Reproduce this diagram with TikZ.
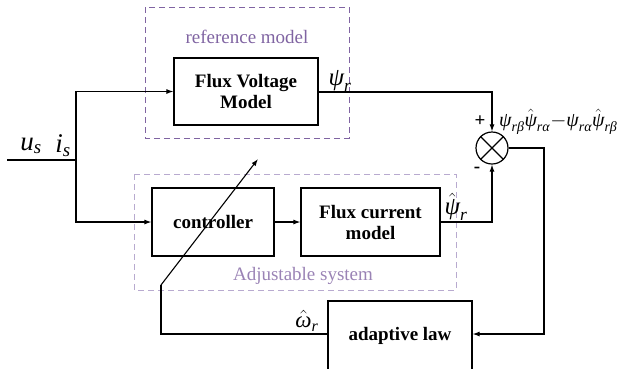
\documentclass[tikz,border=0pt]{standalone}
\usepackage{amsmath}
\usepackage{fontspec}
\setmainfont{Liberation Serif}
\usetikzlibrary{arrows.meta}
\definecolor{refpurple}{HTML}{8064A2}
\definecolor{adjpurple}{HTML}{B8AACF}
\newcommand{\ti}[1]{\text{\itshape #1}}
\begin{document}
\begin{tikzpicture}[x=1pt,y=-1pt,
  blk/.style={draw,line width=1.2pt,inner sep=0pt,font=\fontsize{19}{21}\selectfont\bfseries,align=center},
  conn/.style={line width=1.1pt},
  arr/.style={conn,-{Latex[length=7pt,width=5pt]}},
  lbl/.style={inner sep=0pt,font=\fontsize{19}{21}\selectfont},
  grp/.style={dashed,dash pattern=on 6pt off 4pt,line width=1pt}
]
\useasboundingbox (0,0) rectangle (622,368);
\clip (0,0) rectangle (622,368);
% groups
\draw[grp,refpurple] (145,7) rectangle (349,138);
\node[lbl,text=refpurple] (reflbl) at (247,37) {reference model};
\draw[grp,adjpurple] (134,174) rectangle (456,290);
\node[lbl,text=refpurple!80] (adjlbl) at (303,276) {Adjustable system};
% blocks
\node[blk,minimum width=144pt,minimum height=67pt] (fvm) at (246,91.5) {Flux Voltage\\Model};
\node[blk,minimum width=122pt,minimum height=68pt] (ctrl) at (213,222) {controller};
\node[blk,minimum width=139pt,minimum height=68pt] (fcm) at (370.5,222) {Flux current\\model};
\node[blk,minimum width=144pt,minimum height=70pt] (adp) at (400,336) {\raisebox{2pt}{adaptive law}};
\node[draw,circle,line width=1.2pt,minimum size=32pt,inner sep=0pt] (sum) at (492,148) {};
\draw[line width=1.1pt] (sum.north west) -- (sum.south east) (sum.north east) -- (sum.south west);
% coordinates
\coordinate (in) at (7,160);
\coordinate (j) at (76,160);
\coordinate (fb) at (161,285);
\coordinate (fbend) at (258,159);
% connectors
\draw[conn] (in) -- (j);
\draw[arr] (j) |- (fvm.west);
\draw[arr] (j) |- (ctrl.west);
\draw[arr] (ctrl) -- (fcm);
\draw[arr] (fvm.east |- 0,92) -| (sum.north);
\draw[arr] (fcm.east) -| (sum.south);
\draw[arr] (sum.east) -- (544,148) |- ([yshift=2pt]adp.east);
\draw[conn] ([yshift=2pt]adp.west) -| (fb);
\draw[arr] (fb) -- (fbend);
% labels
\node[lbl,font=\fontsize{27}{29}\selectfont] (us) at (31,146) {$\ti{u}_{\ti{s}}$};
\node[lbl,font=\fontsize{27}{29}\selectfont] (is) at (63,146) {$\ti{i}_{\ti{s}}$};
\node[lbl,font=\fontsize{25}{27}\selectfont] (psir) at (340,81) {$\ti{ψ}_{\ti{r}}$};
\node[lbl,font=\fontsize{25}{27}\selectfont] (psihat) at (456,207) {$\hat{\ti{ψ}}_{\ti{r}}$};
\node[lbl,font=\fontsize{23}{25}\selectfont] (omhat) at (307,321) {$\hat{\ti{ω}}_{\ti{r}}$};
\node[lbl,font=\fontsize{19}{21}\selectfont\bfseries] (plus) at (480,121) {+};
\node[lbl,font=\fontsize{19}{21}\selectfont\bfseries] (minus) at (477,170) {-};
\node[lbl,anchor=west,font=\fontsize{20}{22}\selectfont] (err) at (499,122) {$\ti{ψ}_{\ti{rβ}}\hat{\ti{ψ}}_{\ti{rα}}{-}\ti{ψ}_{\ti{rα}}\hat{\ti{ψ}}_{\ti{rβ}}$};
\end{tikzpicture}
\end{document}
